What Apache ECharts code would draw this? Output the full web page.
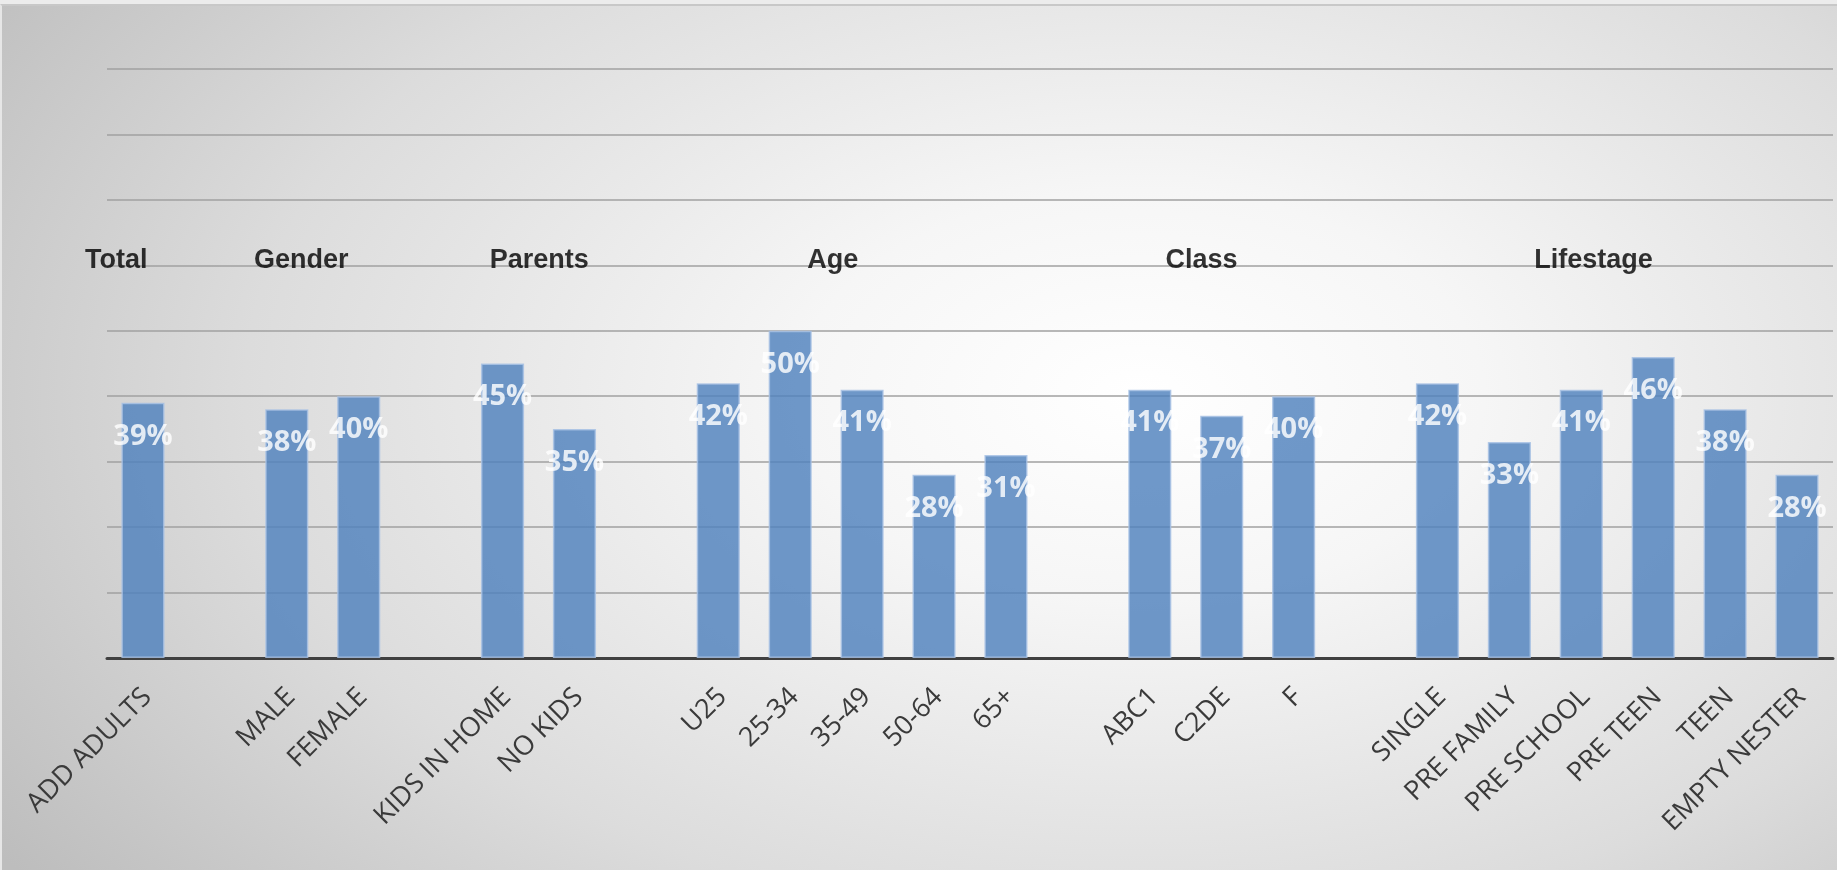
<!DOCTYPE html>
<html>
<head>
<meta charset="utf-8">
<script src="https://cdn.jsdelivr.net/npm/echarts@6/dist/echarts.min.js"></script>
<style>
  html, body { margin: 0; padding: 0; background: #ececec; }
  #wrap { position: absolute; left: 0; top: 4px; width: 1837px; height: 866px;
          border-top: 2px solid #c8c8c8; border-left: 2px solid #e6e6e6; box-sizing: border-box;
          background: radial-gradient(ellipse 75% 95% at 62% 45%, #ffffff 0%, #f6f6f6 25%, #dcdcdc 65%, #bdbdbd 100%); }
  #chart { width: 1837px; height: 870px; position: absolute; left: -2px; top: -6px; }
</style>
</head>
<body>
<div id="wrap"><div id="chart"></div></div>
<script>
// Categories (blank slots separate the groups)
const categories = ['ADD ADULTS', '', 'MALE', 'FEMALE', '', 'KIDS IN HOME', 'NO KIDS', '',
  'U25', '25-34', '35-49', '50-64', '65+', '', 'ABC1', 'C2DE', 'F', '',
  'SINGLE', 'PRE FAMILY', 'PRE SCHOOL', 'PRE TEEN', 'TEEN', 'EMPTY NESTER'];
// Values in percent
const values = [39, null, 38, 40, null, 45, 35, null,
  42, 50, 41, 28, 31, null, 41, 37, 40, null,
  42, 33, 41, 46, 38, 28];
// Group headings
const groupNames = ['Total', 'Gender', 'Parents', 'Age', 'Class', 'Lifestage'];
// Value-axis ticks
const yMin = 0, yMax = 90, yInterval = 10;

// layout of the group headings (slot index position, height in value units)
const groupSlot = [-0.37, 2.2, 5.51, 9.59, 14.72, 20.17];
const groupLevel = 60.7;

const chart = echarts.init(document.getElementById('chart'), null, { renderer: 'canvas' });
chart.setOption({
  backgroundColor: 'transparent',
  animation: false,
  grid: { left: 107, right: 4, top: 69, bottom: 212, containLabel: false },
  xAxis: [{
    type: 'category',
    data: categories,
    axisLine: { show: true, lineStyle: { color: '#404040', width: 3 } },
    axisTick: { show: false },
    axisLabel: { rotate: 45, interval: 0, color: '#3a3a3a', fontSize: 27,
      fontFamily: 'Open Sans', margin: 39, padding: [0, -6, 0, 0] },
    splitLine: { show: false }
  }, {
    type: 'value', min: -0.5, max: categories.length - 0.5, show: false
  }],
  yAxis: [{
    type: 'value', min: yMin, max: yMax, interval: yInterval,
    axisLabel: { show: false }, axisLine: { show: false }, axisTick: { show: false },
    splitLine: { lineStyle: { color: '#a0a0a0', width: 1.5 } }
  }],
  series: [{
    type: 'bar',
    data: values,
    barWidth: '60%',
    itemStyle: { color: '#4F81BD', opacity: 0.82, borderColor: '#a8c2e4', borderWidth: 1.5 },
    label: {
      show: true, position: 'insideTop', distance: 19,
      formatter: p => p.value + '%',
      color: '#ffffff', fontSize: 29, fontWeight: 'bold', fontFamily: 'Open Sans'
    },
    z: 3
  }, {
    type: 'scatter',
    xAxisIndex: 1,
    symbolSize: 0,
    data: groupNames.map((n, i) => ({ name: n, value: [groupSlot[i], groupLevel] })),
    label: { show: true, position: 'inside', formatter: p => p.name,
      color: '#000000', fontSize: 27, fontWeight: 'bold', fontFamily: 'Liberation Sans' },
    silent: true,
    z: 4
  }]
});
</script>
</body>
</html>
